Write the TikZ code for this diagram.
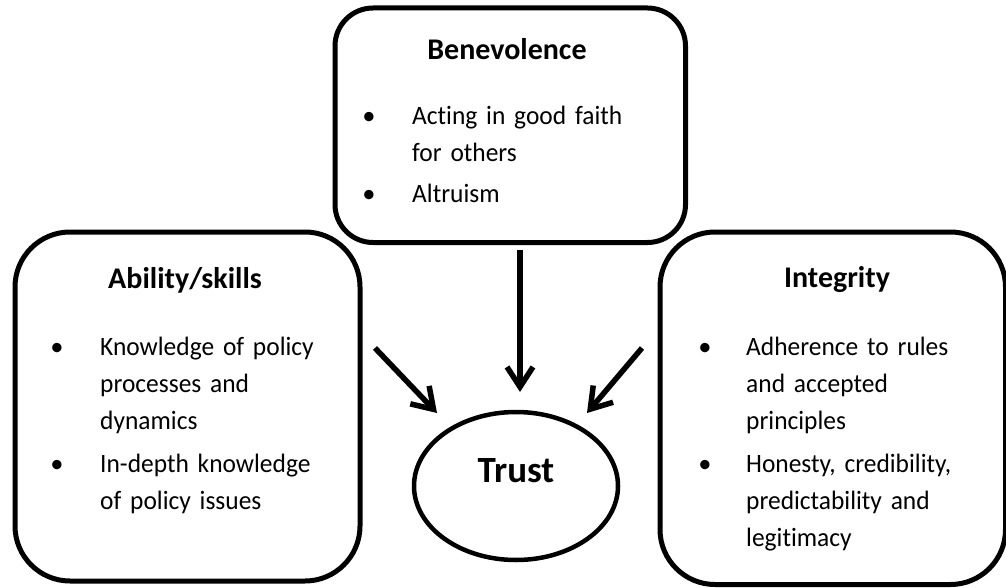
\documentclass[tikz,border=0pt]{standalone}
\usepackage{fontspec}
\setmainfont{Carlito}[RawFeature=-liga]
\newfontfamily\bodyfont{Carlito}[RawFeature=-liga,FakeStretch=0.96]
\usetikzlibrary{arrows.meta,shapes.geometric}
\begin{document}
\begin{tikzpicture}[x=1pt,y=-1pt,
  box/.style={draw,line width=5pt,rounded corners=#1,inner sep=0pt,anchor=north west},
  title/.style={anchor=base,inner sep=0pt,font=\fontsize{30}{37}\selectfont\bfseries},
  item/.style={anchor=base west,inner sep=0pt,text width=300pt,align=left,font=\bodyfont\fontsize{26.5}{37}\selectfont},
  bul/.style={anchor=base,inner sep=0pt,font=\fontsize{26.5}{37}\selectfont},
  arr/.style={line width=5.5pt,-{Straight Barb[length=20pt,width=26pt]}}]
\useasboundingbox (0,0) rectangle (1006,588);
% boxes
\node[box=38pt,minimum width=350.5pt,minimum height=234.5pt] (ben) at (332.5,5.5) {};
\node[box=55pt,minimum width=345pt,minimum height=349pt] (abi) at (12.5,229.5) {};
\node[box=55pt,minimum width=345.5pt,minimum height=352.5pt] (int) at (657.5,229.5) {};
\node[draw,ellipse,line width=4.5pt,minimum width=204pt,minimum height=148pt,inner sep=0pt] (trust) at (516,486) {};
% Benevolence
\node[title] (bent) at (507,60) {Benevolence};
\node[bul] (bb1) at (369,125) {•};
\node[item] (bi1) at (412,125) {Acting in good faith\\for others};
\node[bul] (bb2) at (369,203) {•};
\node[item] (bi2) at (412,203) {Altruism};
% Ability
\node[title] (abit) at (185,288) {Ability/skills};
\node[bul] (ab1) at (57,355) {•};
\node[item] (ai1) at (100,355) {Knowledge of policy\\processes and\\dynamics};
\node[bul] (ab2) at (57,472) {•};
\node[item] (ai2) at (100,472) {In-depth knowledge\\of policy issues};
% Integrity
\node[title] (intt) at (837,287) {Integrity};
\node[bul] (ib1) at (705,355) {•};
\node[item] (ii1) at (746,355) {Adherence to rules\\and accepted\\principles};
\node[bul] (ib2) at (705,472) {•};
\node[item] (ii2) at (746,472) {Honesty, credibility,\\predictability and\\legitimacy};
% Trust
\node[anchor=base,inner sep=0pt,font=\fontsize{37}{40}\selectfont\bfseries] (trustt) at (516,482) {Trust};
% arrows
\coordinate (s1) at (375,348); \coordinate (e1) at (437,413);
\coordinate (s2) at (520,250); \coordinate (e2) at (520,392);
\coordinate (s3) at (642,348); \coordinate (e3) at (587,413);
\draw[arr] (s1) -- (e1);
\draw[arr] (s2) -- (e2);
\draw[arr] (s3) -- (e3);
\end{tikzpicture}
\end{document}
